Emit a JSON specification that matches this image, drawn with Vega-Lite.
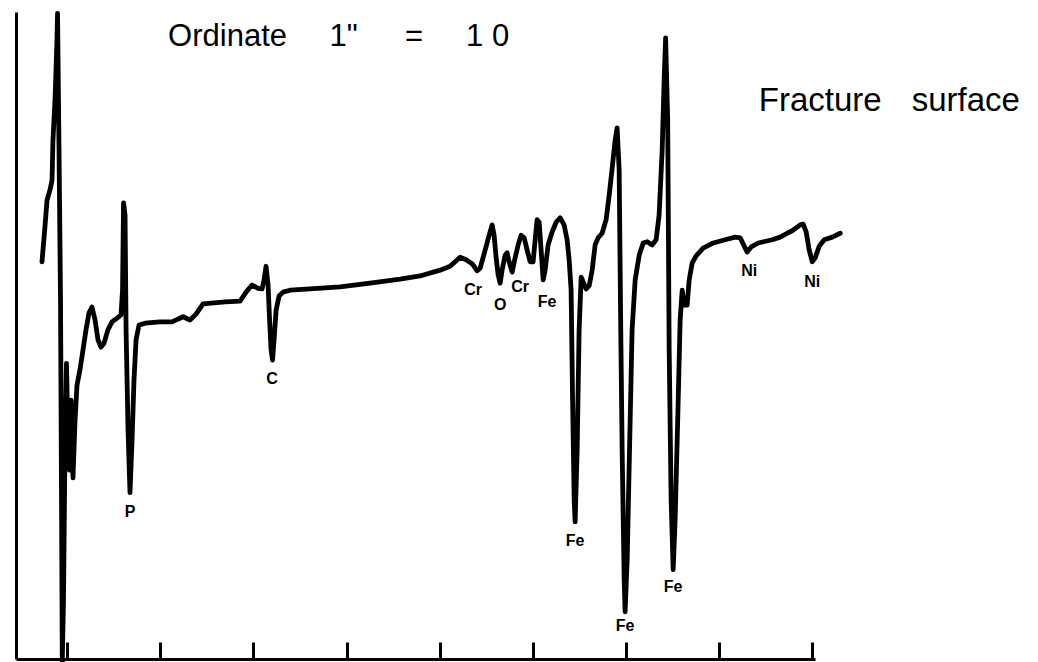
{
  "$schema": "https://vega.github.io/schema/vega-lite/v6.json",
  "autosize": "none",
  "width": 799,
  "height": 647,
  "padding": {"left": 16, "top": 12, "right": 223, "bottom": 3},
  "background": "white",
  "config": {"view": {"stroke": null}},
  "layer": [
    {
      "data": {"values": [
        {"energy": 22.9, "signal": 61.4}, {"energy": 26.1, "signal": 66.8}, {"energy": 28.3, "signal": 70.9},
        {"energy": 31.5, "signal": 72.5}, {"energy": 33.7, "signal": 74.0}, {"energy": 34.7, "signal": 80.2},
        {"energy": 36.9, "signal": 86.4}, {"energy": 39.0, "signal": 95.7}, {"energy": 39.6, "signal": 99.8},
        {"energy": 41.2, "signal": 78.7}, {"energy": 42.8, "signal": 55.5}, {"energy": 43.9, "signal": 24.6},
        {"energy": 44.7, "signal": -0.3}, {"energy": 46.0, "signal": 9.1}, {"energy": 47.6, "signal": 32.3},
        {"energy": 49.2, "signal": 45.7}, {"energy": 50.9, "signal": 33.8}, {"energy": 52.5, "signal": 29.2},
        {"energy": 54.1, "signal": 40.0}, {"energy": 55.1, "signal": 35.4}, {"energy": 56.2, "signal": 28.0},
        {"energy": 58.4, "signal": 36.9}, {"energy": 60.5, "signal": 42.3}, {"energy": 63.7, "signal": 44.7},
        {"energy": 67.0, "signal": 47.8}, {"energy": 70.2, "signal": 50.9}, {"energy": 73.4, "signal": 53.5},
        {"energy": 76.6, "signal": 54.4}, {"energy": 79.9, "signal": 52.4}, {"energy": 83.1, "signal": 49.3},
        {"energy": 86.3, "signal": 48.2}, {"energy": 89.5, "signal": 48.8}, {"energy": 93.8, "signal": 50.9},
        {"energy": 98.1, "signal": 52.1}, {"energy": 103.5, "signal": 52.7}, {"energy": 107.8, "signal": 53.2},
        {"energy": 109.4, "signal": 57.0}, {"energy": 110.5, "signal": 70.5}, {"energy": 112.1, "signal": 68.6},
        {"energy": 113.2, "signal": 50.9}, {"energy": 115.3, "signal": 35.4}, {"energy": 117.4, "signal": 25.7},
        {"energy": 119.6, "signal": 33.8}, {"energy": 121.7, "signal": 43.1}, {"energy": 123.9, "signal": 49.3},
        {"energy": 127.1, "signal": 51.6}, {"energy": 133.6, "signal": 51.9}, {"energy": 149.7, "signal": 52.1},
        {"energy": 162.6, "signal": 52.1}, {"energy": 174.4, "signal": 52.9}, {"energy": 181.9, "signal": 52.4},
        {"energy": 188.3, "signal": 53.3}, {"energy": 195.9, "signal": 54.9}, {"energy": 219.5, "signal": 55.2},
        {"energy": 235.6, "signal": 55.3}, {"energy": 242.0, "signal": 56.7}, {"energy": 248.5, "signal": 57.8},
        {"energy": 254.9, "signal": 57.3}, {"energy": 259.2, "signal": 57.2}, {"energy": 261.4, "signal": 58.6},
        {"energy": 263.5, "signal": 60.7}, {"energy": 265.7, "signal": 57.8}, {"energy": 267.3, "signal": 52.4},
        {"energy": 268.9, "signal": 47.8}, {"energy": 270.5, "signal": 46.2}, {"energy": 272.1, "signal": 49.3},
        {"energy": 274.3, "signal": 53.9}, {"energy": 277.5, "signal": 56.1}, {"energy": 281.8, "signal": 56.7},
        {"energy": 289.3, "signal": 57.0}, {"energy": 310.8, "signal": 57.2}, {"energy": 343.0, "signal": 57.5},
        {"energy": 375.2, "signal": 58.1}, {"energy": 407.5, "signal": 58.7}, {"energy": 428.9, "signal": 59.2},
        {"energy": 450.4, "signal": 60.1}, {"energy": 461.2, "signal": 60.7}, {"energy": 471.9, "signal": 62.1},
        {"energy": 478.3, "signal": 61.7}, {"energy": 484.8, "signal": 61.1}, {"energy": 490.2, "signal": 60.0},
        {"energy": 493.4, "signal": 60.4}, {"energy": 498.8, "signal": 63.2}, {"energy": 503.1, "signal": 65.5},
        {"energy": 506.3, "signal": 67.1}, {"energy": 508.4, "signal": 65.5}, {"energy": 510.6, "signal": 62.0},
        {"energy": 512.7, "signal": 59.4}, {"energy": 514.9, "signal": 58.1}, {"energy": 517.0, "signal": 60.1},
        {"energy": 520.2, "signal": 62.4}, {"energy": 522.4, "signal": 62.8}, {"energy": 524.5, "signal": 61.4},
        {"energy": 527.8, "signal": 59.8}, {"energy": 531.0, "signal": 62.0}, {"energy": 534.2, "signal": 64.0},
        {"energy": 537.4, "signal": 65.5}, {"energy": 540.7, "signal": 65.1}, {"energy": 543.9, "signal": 63.2},
        {"energy": 547.1, "signal": 61.4}, {"energy": 550.3, "signal": 61.4}, {"energy": 552.5, "signal": 64.8},
        {"energy": 554.6, "signal": 67.9}, {"energy": 556.8, "signal": 67.5}, {"energy": 558.9, "signal": 63.2},
        {"energy": 561.1, "signal": 58.6}, {"energy": 563.2, "signal": 60.1}, {"energy": 566.4, "signal": 64.0},
        {"energy": 570.7, "signal": 66.0}, {"energy": 575.0, "signal": 67.5}, {"energy": 579.3, "signal": 68.2},
        {"energy": 583.6, "signal": 67.1}, {"energy": 586.8, "signal": 64.8}, {"energy": 589.0, "signal": 61.7},
        {"energy": 591.1, "signal": 57.0}, {"energy": 592.7, "signal": 40.0}, {"energy": 594.4, "signal": 24.6},
        {"energy": 595.4, "signal": 21.2}, {"energy": 597.6, "signal": 32.3}, {"energy": 599.7, "signal": 50.9},
        {"energy": 601.9, "signal": 59.0}, {"energy": 604.0, "signal": 58.3}, {"energy": 607.2, "signal": 57.2},
        {"energy": 610.5, "signal": 57.7}, {"energy": 613.7, "signal": 60.1}, {"energy": 616.9, "signal": 64.0},
        {"energy": 620.1, "signal": 65.1}, {"energy": 624.4, "signal": 65.8}, {"energy": 628.7, "signal": 67.9},
        {"energy": 632.0, "signal": 71.7}, {"energy": 635.2, "signal": 75.9}, {"energy": 638.4, "signal": 80.2},
        {"energy": 640.5, "signal": 82.1}, {"energy": 642.7, "signal": 75.6}, {"energy": 644.3, "signal": 52.4},
        {"energy": 645.9, "signal": 32.3}, {"energy": 648.1, "signal": 12.2}, {"energy": 649.1, "signal": 7.3},
        {"energy": 651.3, "signal": 15.3}, {"energy": 654.5, "signal": 36.9}, {"energy": 656.6, "signal": 50.9},
        {"energy": 659.9, "signal": 58.6}, {"energy": 664.2, "signal": 62.4}, {"energy": 668.5, "signal": 64.3},
        {"energy": 672.8, "signal": 64.5}, {"energy": 678.1, "signal": 64.0}, {"energy": 682.4, "signal": 64.8},
        {"energy": 685.6, "signal": 68.6}, {"energy": 688.9, "signal": 78.7}, {"energy": 691.0, "signal": 89.5},
        {"energy": 692.6, "signal": 96.0}, {"energy": 694.8, "signal": 83.3}, {"energy": 696.4, "signal": 47.8},
        {"energy": 698.5, "signal": 24.6}, {"energy": 700.7, "signal": 13.8}, {"energy": 702.8, "signal": 21.5},
        {"energy": 706.1, "signal": 40.0}, {"energy": 708.2, "signal": 52.4}, {"energy": 710.4, "signal": 57.0},
        {"energy": 712.5, "signal": 54.7}, {"energy": 715.7, "signal": 54.7}, {"energy": 717.9, "signal": 58.6},
        {"energy": 721.1, "signal": 61.2}, {"energy": 725.4, "signal": 62.3}, {"energy": 732.9, "signal": 63.5},
        {"energy": 743.7, "signal": 64.3}, {"energy": 756.5, "signal": 64.8}, {"energy": 767.3, "signal": 65.2},
        {"energy": 772.7, "signal": 65.1}, {"energy": 777.0, "signal": 63.8}, {"energy": 780.2, "signal": 62.9},
        {"energy": 784.5, "signal": 63.7}, {"energy": 792.0, "signal": 64.3}, {"energy": 807.0, "signal": 64.8},
        {"energy": 815.6, "signal": 65.2}, {"energy": 829.6, "signal": 66.3}, {"energy": 837.1, "signal": 67.1},
        {"energy": 840.3, "signal": 67.2}, {"energy": 843.5, "signal": 66.0}, {"energy": 846.8, "signal": 63.2},
        {"energy": 850.0, "signal": 61.4}, {"energy": 853.2, "signal": 62.0}, {"energy": 857.5, "signal": 63.8},
        {"energy": 862.9, "signal": 64.8}, {"energy": 871.5, "signal": 65.2}, {"energy": 880.1, "signal": 65.8}
      ]},
      "mark": {"type": "line", "color": "black", "strokeWidth": 4.8, "strokeJoin": "round", "strokeCap": "round"},
      "encoding": {
        "x": {
          "field": "energy", "type": "quantitative",
          "scale": {"domain": [-5, 853], "nice": false, "zero": false},
          "axis": {
            "title": null, "labels": false, "grid": false,
            "domainColor": "black", "domainWidth": 3,
            "ticks": true, "tickColor": "black", "tickWidth": 3, "tickSize": -17,
            "values": [50, 150, 250, 350, 450, 550, 650, 750, 850]
          }
        },
        "y": {
          "field": "signal", "type": "quantitative",
          "scale": {"domain": [0, 100], "nice": false},
          "axis": {
            "title": null, "labels": false, "grid": false, "ticks": false,
            "domainColor": "black", "domainWidth": 3
          }
        }
      }
    },
    {
      "data": {"values": [
        {"energy": 117.4, "signal": 22.7, "element": "P"},
        {"energy": 270.0, "signal": 43.3, "element": "C"},
        {"energy": 485.9, "signal": 57.0, "element": "Cr"},
        {"energy": 514.9, "signal": 54.7, "element": "O"},
        {"energy": 536.4, "signal": 57.5, "element": "Cr"},
        {"energy": 565.4, "signal": 55.2, "element": "Fe"},
        {"energy": 595.4, "signal": 18.2, "element": "Fe"},
        {"energy": 649.1, "signal": 5.1, "element": "Fe"},
        {"energy": 700.7, "signal": 11.1, "element": "Fe"},
        {"energy": 782.3, "signal": 60.0, "element": "Ni"},
        {"energy": 850.0, "signal": 58.3, "element": "Ni"}
      ]},
      "mark": {"type": "text", "font": "Liberation Sans", "fontSize": 16, "fontWeight": "bold", "color": "black", "baseline": "middle", "align": "center"},
      "encoding": {
        "x": {"field": "energy", "type": "quantitative"},
        "y": {"field": "signal", "type": "quantitative"},
        "text": {"field": "element"}
      }
    },
    {
      "data": {"values": [
        {"energy": 222.2, "signal": 94.7, "note": "Ordinate"},
        {"energy": 346.8, "signal": 94.7, "note": "1\""},
        {"energy": 422.5, "signal": 94.7, "note": "="},
        {"energy": 501.4, "signal": 94.7, "note": "1 0"}
      ]},
      "mark": {"type": "text", "font": "Liberation Sans", "fontSize": 31, "color": "black", "baseline": "alphabetic", "align": "center"},
      "encoding": {
        "x": {"field": "energy", "type": "quantitative"},
        "y": {"field": "signal", "type": "quantitative"},
        "text": {"field": "note"}
      }
    },
    {
      "data": {"values": [
        {"energy": 858.6, "signal": 84.7, "note": "Fracture"},
        {"energy": 1014.9, "signal": 84.7, "note": "surface"}
      ]},
      "mark": {"type": "text", "font": "Liberation Sans", "fontSize": 33, "color": "black", "baseline": "alphabetic", "align": "center"},
      "encoding": {
        "x": {"field": "energy", "type": "quantitative"},
        "y": {"field": "signal", "type": "quantitative"},
        "text": {"field": "note"}
      }
    }
  ]
}
